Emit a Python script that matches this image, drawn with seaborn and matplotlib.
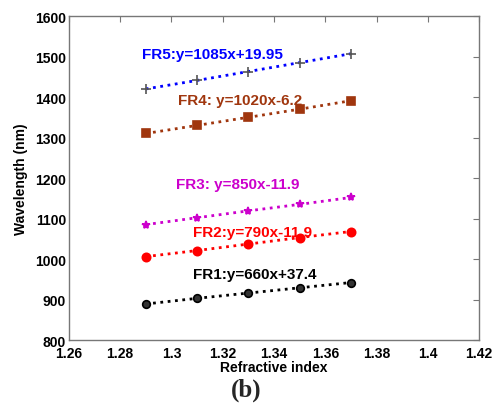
import matplotlib
matplotlib.use("Agg")
import matplotlib.pyplot as plt
import seaborn as sns
import pandas as pd

# refractive index values (x axis)
ri = [1.29, 1.31, 1.33, 1.35, 1.37]

# resonance wavelengths (nm) for each FR
fr1 = [889, 903, 916, 929, 942]
fr2 = [1006, 1021, 1037, 1053, 1068]
fr3 = [1085, 1102, 1119, 1135, 1152]
fr4 = [1310, 1330, 1350, 1370, 1391]
fr5 = [1420, 1441, 1463, 1485, 1507]

names = ["FR1", "FR2", "FR3", "FR4", "FR5"]
fits = ["FR1:y=660x+37.4", "FR2:y=790x-11.9", "FR3: y=850x-11.9",
        "FR4: y=1020x-6.2", "FR5:y=1085x+19.95"]

sns.set_style("white")
plt.rcParams["font.family"] = ["Liberation Sans", "DejaVu Sans"]
plt.rcParams["font.weight"] = "bold"

df = pd.DataFrame({"ri": ri * 5,
                   "wl": fr1 + fr2 + fr3 + fr4 + fr5,
                   "fr": [n for n in names for _ in ri]})

colors = {"FR1": "black", "FR2": "red", "FR3": "#cc00cc", "FR4": "#a0360e", "FR5": "blue"}
markers = {"FR1": "o", "FR2": "o", "FR3": "*", "FR4": "s", "FR5": "+"}
mfc = {"FR1": "#333333", "FR2": "red", "FR3": "#cc00cc", "FR4": "#a0360e", "FR5": "none"}
mec = {"FR1": "black", "FR2": "red", "FR3": "#cc00cc", "FR4": "#a0360e", "FR5": "#555555"}
msize = {"FR1": 5.5, "FR2": 6, "FR3": 6, "FR4": 5.5, "FR5": 7}

fig = plt.figure(figsize=(4.95, 4.06), dpi=100)
ax = fig.add_axes([0.139, 0.160, 0.829, 0.798])

for n in names:
	sub = df[df.fr == n]
	sns.lineplot(data=sub, x="ri", y="wl", ax=ax, color=colors[n], linestyle=":",
	             linewidth=2, marker=markers[n], markersize=msize[n],
	             markerfacecolor=mfc[n], markeredgecolor=mec[n], markeredgewidth=1.2,
	             legend=False)

# fit equations
pos = [(1.3085, 963), (1.3084, 1066), (1.3018, 1185), (1.3025, 1393), (1.2885, 1507)]
for (tx, ty), t, n in zip(pos, fits, names):
	ax.text(tx, ty, t, color=colors[n], fontsize=11, fontweight="bold", va="center")

ax.set_xlim(1.26, 1.42)
ax.set_ylim(800, 1600)
ax.set_xticks([1.26, 1.28, 1.3, 1.32, 1.34, 1.36, 1.38, 1.4, 1.42])
ax.set_xticklabels(["1.26", "1.28", "1.3", "1.32", "1.34", "1.36", "1.38", "1.4", "1.42"])
ax.set_yticks(range(800, 1601, 100))
ax.tick_params(direction="in", top=True, right=True, labelsize=10, length=4,
               color="#777777", labelcolor="black", pad=2)
ax.tick_params(axis="x", pad=4)
for s in ax.spines.values():
	s.set_color("#777777")
	s.set_linewidth(1)
ax.set_xlabel("Refractive index", fontsize=10, fontweight="bold", labelpad=0, color="black")
ax.set_ylabel("Wavelength (nm)", fontsize=10, fontweight="bold", labelpad=5, color="black")

fig.text(0.497, 0.01, "(b)", ha="center", va="bottom", fontsize=18, fontweight="bold",
         family="Liberation Serif")

fig.savefig("out.png", dpi=100)
